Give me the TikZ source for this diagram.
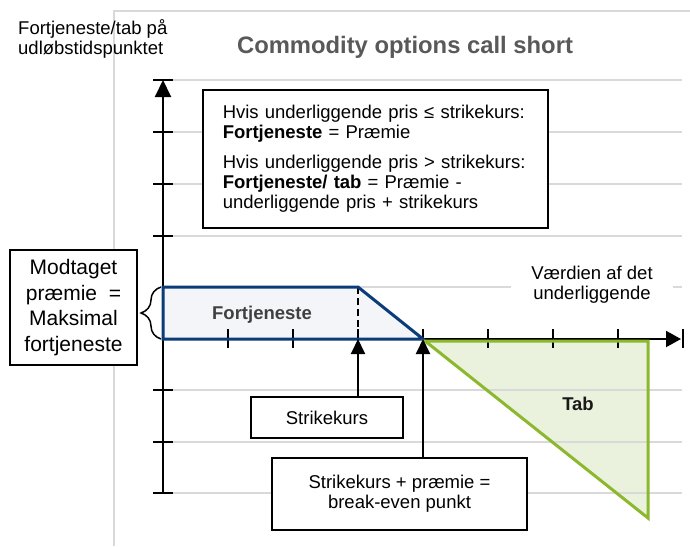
\documentclass[tikz,border=0pt]{standalone}
\usepackage{fontspec}
\setmainfont{Liberation Sans}
\usetikzlibrary{arrows.meta,decorations.pathreplacing}
\definecolor{gridgray}{HTML}{D9D9D9}
\definecolor{navy}{HTML}{0B3C7A}
\definecolor{bluefill}{HTML}{F3F5F9}
\definecolor{lgreen}{HTML}{8CB82E}
\definecolor{greenfill}{HTML}{EAF1DD}
\definecolor{titlegray}{HTML}{595959}
\definecolor{labelgray}{HTML}{404040}
\begin{document}
\begin{tikzpicture}[x=1pt,y=-1pt,
  gridline/.style={gridgray,line width=1.5pt},
  axisline/.style={black,line width=2pt},
  tickline/.style={black,line width=2pt},
  tipup/.style={-{Triangle[length=17pt,width=16pt]}},
  tipsmall/.style={-{Triangle[length=15pt,width=14pt]}},
  box/.style={draw=black,line width=1.5pt,fill=white,inner sep=0pt},
  body/.style={font=\fontsize{18.5}{20}\selectfont},
  bigbody/.style={font=\fontsize{21}{25.5}\selectfont},
  area/.style={line width=3pt}
]
\useasboundingbox (0,0) rectangle (690,546);
\fill[white] (0,0) rectangle (690,546);

% chart frame
\draw[gridline] (114,546) -- (114,11) -- (690,11);

% coordinates
\coordinate (O) at (163,339);
\coordinate (ytop) at (163,80);
\coordinate (ybot) at (163,493);
\coordinate (xend) at (681,339);
\coordinate (strike) at (358,339);
\coordinate (bep) at (423,339);
\coordinate (ptop) at (163,287);
\coordinate (skn) at (358,287);
\coordinate (gtl) at (425,341);
\coordinate (gtr) at (648,341);
\coordinate (gbr) at (648,518);

% fills
\fill[bluefill] (ptop) -- (skn) -- (bep) -- (O) -- cycle;
\fill[greenfill] (gtl) -- (gtr) -- (gbr) -- cycle;

% grid lines
\foreach \y in {80,132,184,236,287,390,442,493}
  \draw[gridline] (173,\y) -- (682,\y);

% axes
\draw[axisline,tipup] (ybot) -- (ytop);
\foreach \y in {80,132,184,236,390,442,493}
  \draw[tickline] (153,\y) -- (173,\y);
\draw[axisline,-{Triangle[length=15pt,width=16pt]}] (O) -- (xend);
\foreach \x in {228,293,358,423,488,553,618,683}
  \draw[tickline] (\x,329) -- (\x,348);

% dashed strike line
\draw[black,line width=2pt,dash pattern=on 7pt off 4pt] (skn) -- (strike);

% outlines
\draw[navy,area] (ptop) -- (skn) -- (bep) -- (O) -- cycle;
\draw[lgreen,area] (gtl) -- (gtr) -- (gbr) -- cycle;

% labels
\node[body,anchor=north west,align=left,inner sep=0pt] (ylab) at (18,19)
  {Fortjeneste/tab på\\udløbstidspunktet};
\node[font=\bfseries\fontsize{23.8}{28}\selectfont,text=titlegray,inner sep=0pt] (title) at (405,47)
  {Commodity options call short};

\node[box,body,anchor=north west,minimum width=345pt,minimum height=138pt,
      text width=305pt,align=left,inner xsep=20pt] (rule) at (202,89)
  {Hvis underliggende pris ≤ strikekurs:\\
   \textbf{Fortjeneste} = Præmie\\[10pt]
   Hvis underliggende pris > strikekurs:\\
   \textbf{Fortjeneste/ tab} = Præmie -\\
   underliggende pris + strikekurs};

\node[body,fill=white,align=center,inner xsep=20pt,inner ysep=3pt] (val) at (592,285)
  {Værdien af det\\underliggende};

\node[body,font=\bfseries\fontsize{18.5}{20}\selectfont,text=labelgray,inner sep=0pt] (fl) at (262,315) {Fortjeneste};
\node[body,font=\bfseries\fontsize{18.5}{20}\selectfont,text=black!90,inner sep=0pt] (tab) at (578,403.5) {Tab};

\node[box,bigbody,align=center,minimum width=127pt,minimum height=115pt] (prem) at (73.5,307.5)
  {Modtaget\\præmie~ =\\Maksimal\\fortjeneste};

\node[box,body,minimum width=152pt,minimum height=41pt] (sk) at (327,417.5) {Strikekurs};
\node[box,body,align=center,minimum width=255pt,minimum height=72pt] (be) at (399.5,494)
  {Strikekurs + præmie =\\break-even punkt};

% arrows
\draw[line width=2pt,tipsmall] (sk.north -| strike) -- (strike);
\draw[line width=2pt,tipsmall] (be.north -| bep) -- (bep);

% brace
\draw[line width=1.5pt,decorate,decoration={brace,amplitude=20pt}] (161,339) -- (161,287);
\end{tikzpicture}
\end{document}
